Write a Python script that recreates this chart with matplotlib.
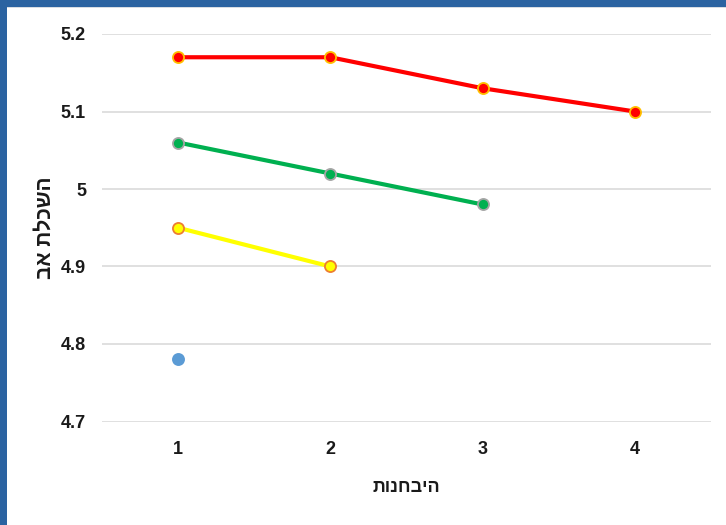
import matplotlib
matplotlib.use("Agg")
import matplotlib.pyplot as plt
from matplotlib.patches import Rectangle
from matplotlib.ticker import FuncFormatter

# Exam attempts (x) and father's education average (y) per group
attempts = [1, 2, 3, 4]
red_vals = [5.17, 5.17, 5.13, 5.10]
green_vals = [5.06, 5.02, 4.98]
yellow_vals = [4.95, 4.90]
blue_vals = [4.78]
y_ticks = [4.7, 4.8, 4.9, 5.0, 5.1, 5.2]

x_title = "היבחנות"
y_title = "השכלת אב"

FONT = ["Liberation Sans Narrow", "Liberation Sans", "DejaVu Sans"]
plt.rcParams["font.family"] = FONT


def visual(s):
    # matplotlib lays out text left-to-right, so feed Hebrew in display order
    return s[::-1]


fig = plt.figure(figsize=(7.26, 5.25), dpi=100)
fig.patch.set_facecolor("white")

# slide frame: blue strips on the left and top edges
fig.patches.append(Rectangle((0, 0), 7 / 726, 1, transform=fig.transFigure,
                             facecolor="#2B63A1", edgecolor="none", zorder=0))
fig.patches.append(Rectangle((0, 1 - 7 / 525), 1, 7 / 525, transform=fig.transFigure,
                             facecolor="#2B63A1", edgecolor="none", zorder=0))
fig.patches.append(Rectangle((7 / 726, 1 - 8 / 525), 1, 1 / 525, transform=fig.transFigure,
                             facecolor="#D8DDE3", edgecolor="none", zorder=0))

ax = fig.add_axes([102 / 726, 103.5 / 525, 609 / 726, 387.5 / 525])
ax.set_facecolor("white")

lw = 3.0
ms = 8
mew = 1.3
ax.plot(attempts[:len(red_vals)], red_vals, color="#FF0000", lw=lw,
        marker="o", ms=ms, mfc="#FF0000", mec="#FFC000", mew=mew, zorder=4)
ax.plot(attempts[:len(green_vals)], green_vals, color="#00B050", lw=lw,
        marker="o", ms=ms, mfc="#00B050", mec="#A5A5A5", mew=mew, zorder=4)
ax.plot(attempts[:len(yellow_vals)], yellow_vals, color="#FFFF00", lw=lw,
        marker="o", ms=ms, mfc="#FFFF00", mec="#ED7D31", mew=mew, zorder=4)
ax.plot(attempts[:len(blue_vals)], blue_vals, color="#5B9BD5", lw=lw,
        marker="o", ms=ms, mfc="#5B9BD5", mec="#5B9BD5", mew=mew, zorder=4)

ax.set_xlim(0.5, 4.5)
ax.set_ylim(4.7, 5.2)
ax.set_xticks(attempts)
ax.set_yticks(y_ticks)
ax.yaxis.set_major_formatter(FuncFormatter(lambda v, p: f"{v:g}"))
ax.grid(axis="y", color="#DDDDDD", lw=1.3)
ax.set_axisbelow(True)
for s in ax.spines.values():
    s.set_visible(False)
ax.tick_params(axis="both", length=0, labelsize=13, labelcolor="#1A1A1A")
ax.tick_params(axis="y", pad=11.5)
ax.tick_params(axis="x", pad=14)
for lab in ax.get_xticklabels() + ax.get_yticklabels():
    lab.set_fontweight("bold")

ax.set_xlabel(visual(x_title), fontsize=13, fontweight="bold", color="#1A1A1A",
              family=["Liberation Sans", "DejaVu Sans"])
ax.xaxis.label.set_va("center")
ax.xaxis.set_label_coords(0.5, -(487 - 421.5) / 387.5)

ax.set_ylabel(visual(y_title), fontsize=15, fontweight="bold", color="#1A1A1A",
              family=["Liberation Sans", "DejaVu Sans"])
ax.yaxis.label.set_va("center")
ax.yaxis.set_label_coords((45 - 102) / 609, 0.5)

fig.savefig("out.png", dpi=100, facecolor="white")
